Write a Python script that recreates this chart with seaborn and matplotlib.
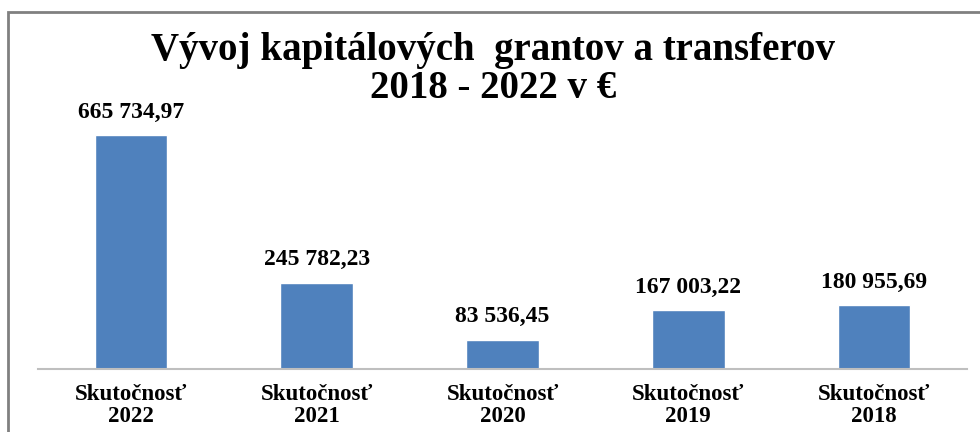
import pandas as pd
import seaborn as sns
import matplotlib.pyplot as plt
from matplotlib.patches import Rectangle

# %% Data

roky = ['2022', '2021', '2020', '2019', '2018']
kategorie = ['Skutočnosť\n' + r for r in roky]
hodnoty = [665734.97, 245782.23, 83536.45, 167003.22, 180955.69]

df = pd.DataFrame({'kategoria': kategorie, 'hodnota': hodnoty})

# %% Plot

sns.set_style('white')
plt.rcParams['font.family'] = ['Liberation Serif', 'DejaVu Serif']
plt.rcParams['font.weight'] = 'bold'
plt.rcParams['text.color'] = 'black'
plt.rcParams['xtick.color'] = 'black'

fig = plt.figure(figsize=(9.8, 4.32), dpi=100)
ax = fig.add_axes([38/980, 63/432, 929/980, 260/432])

sns.barplot(data=df, x='kategoria', y='hodnota', color='#4F81BD',
            saturation=1, width=0.39, ax=ax)

popisky = [f'{v:,.2f}'.replace(',', ' ').replace('.', ',') for v in hodnoty]
ax.bar_label(ax.containers[0], labels=popisky, padding=9,
             fontsize=17, fontweight='bold', color='black')

ax.set_xlim(-0.5, 4.5)
ax.set_ylim(0, 740000)
ax.set_xlabel('')
ax.set_ylabel('')
ax.set_yticks([])
ax.tick_params(axis='x', length=0, pad=11, labelsize=16.5, labelcolor='black')
for lbl in ax.get_xticklabels():
    lbl.set_fontweight('bold')
    lbl.set_linespacing(1.05)
for s in ['top', 'right', 'left']:
    ax.spines[s].set_visible(False)
ax.spines['bottom'].set_color('#BFBFBF')
ax.spines['bottom'].set_linewidth(1.5)

fig.text(0.503, 1 - 32/432, 'Vývoj kapitálových  grantov a transferov\n2018 - 2022 v €',
         ha='center', va='top', fontsize=28, fontweight='bold',
         color='black', linespacing=1.02)

# ramček okolo grafu
fig.add_artist(Rectangle((8/980, -0.1), 1.2, 1.1 - 12/432, transform=fig.transFigure,
                         fill=False, edgecolor='#808080', linewidth=2))

plt.savefig('out.png', dpi=100)
